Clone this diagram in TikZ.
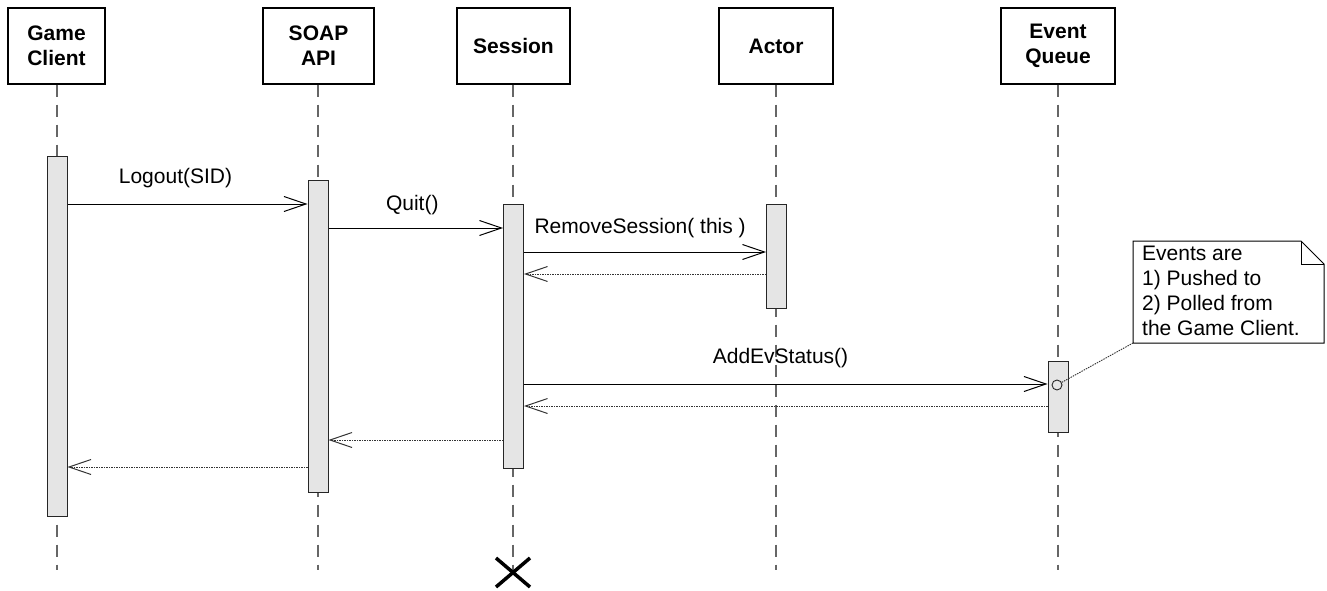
\documentclass[tikz,border=0pt]{standalone}
\usepackage{fontspec}
\setmainfont{Liberation Sans}
\usetikzlibrary{arrows.meta,calc}
\begin{document}
\begin{tikzpicture}[x=1pt,y=-1pt,
 hdr/.style={draw=black, line width=1.2pt, minimum width=#1, minimum height=76pt, inner sep=0pt, align=center, font=\fontsize{21}{25}\selectfont\bfseries},
 life/.style={draw=black!60, line width=1.2pt, dash pattern=on 12pt off 8pt},
 act/.style={draw=black!85, fill=black!10, line width=1pt, minimum width=20pt, minimum height=#1, inner sep=0pt},
 msg/.style={draw=black, line width=1pt, -{Straight Barb[length=22pt,width=15pt,line width=1pt]}},
 ret/.style={draw=black!80, line width=1pt, dash pattern=on 1.5pt off 1pt, -{Straight Barb[length=22pt,width=15pt,line width=1pt]}},
 lbl/.style={font=\fontsize{21}{25}\selectfont, anchor=base, inner sep=0pt},
 notetxt/.style={font=\fontsize{21}{25}\selectfont, align=left, anchor=north west, inner sep=0pt}
]
\useasboundingbox (0,0) rectangle (1327,591);

% headers
\node[hdr=97pt]  (gc)  at (56.5,46) {Game\\Client};
\node[hdr=111pt] (soap) at (318.5,46) {SOAP\\API};
\node[hdr=113pt] (ses) at (513.5,46) {Session};
\node[hdr=114pt] (act) at (776,46) {Actor};
\node[hdr=114pt] (eq)  at (1058,46) {Event\\Queue};

% lifeline ends
\coordinate (gcend) at (57,570);
\coordinate (soapend) at (318,570);
\coordinate (sesend) at (513,572);
\coordinate (actend) at (776,570);
\coordinate (eqend) at (1058,570);

\draw[life] (gc.south -| gcend) -- (gcend);
\draw[life] (soap.south -| soapend) -- (soapend);
\draw[life] (ses.south -| sesend) -- (sesend);
\draw[life] (act.south -| actend) -- (actend);
\draw[life] (eq.south -| eqend) -- (eqend);

% activations
\node[act=360pt] (gca) at (57,336) {};
\node[act=312pt] (soapa) at (318,336) {};
\node[act=264pt] (sesa) at (513.5,336) {};
\node[act=104pt] (acta) at (776.5,256) {};
\node[act=71pt]  (eqa) at (1058,396.5) {};

% message rows
\coordinate (y1) at (0,204);
\coordinate (y2) at (0,228);
\coordinate (y3) at (0,252);
\coordinate (y4) at (0,274);
\coordinate (y5) at (0,384);
\coordinate (y6) at (0,406);
\coordinate (y7) at (0,440);
\coordinate (y8) at (0,467);

\draw[msg] (gca.east |- y1) -- node[lbl, pos=0.45, yshift=21pt] {Logout(SID)} (soapa.west |- y1);
\draw[msg] (soapa.east |- y2) -- node[lbl, pos=0.48, yshift=18pt] {Quit()} (sesa.west |- y2);
\draw[msg] (sesa.east |- y3) -- node[lbl, pos=0.48, yshift=19pt] {RemoveSession( this )} (acta.west |- y3);
\draw[ret] (acta.west |- y4) -- (sesa.east |- y4);
\draw[msg] (sesa.east |- y5) -- node[lbl, pos=0.49, yshift=21pt] {AddEvStatus()} (eqa.west |- y5);
\draw[ret] (eqa.west |- y6) -- (sesa.east |- y6);
\draw[ret] (sesa.west |- y7) -- (soapa.east |- y7);
\draw[ret] (soapa.west |- y8) -- (gca.east |- y8);

% event marker
\node[circle, draw=black!85, fill=black!10, line width=0.9pt, inner sep=0pt, minimum size=10pt] (circ) at (1057,385) {};

% note
\coordinate (nbl) at (1133,343);
\draw[line width=1pt, fill=white] (1133,241) -- (1301,241) -- (1324,264) -- (1324,343) -- (nbl) -- cycle;
\draw[line width=1pt] (1301,241) -- (1301,264) -- (1324,264);
\node[notetxt] (note) at (1142,246) {Events are\\1) Pushed to\\2) Polled from\\the Game Client.};
\draw[draw=black!80, line width=0.9pt, dash pattern=on 1.5pt off 1pt] (circ) -- (nbl);

% destruction
\draw[line width=3.5pt] ($(sesend)+(-17,-14)$) -- ($(sesend)+(17,15)$);
\draw[line width=3.5pt] ($(sesend)+(-17,15)$) -- ($(sesend)+(17,-14)$);
\end{tikzpicture}
\end{document}
